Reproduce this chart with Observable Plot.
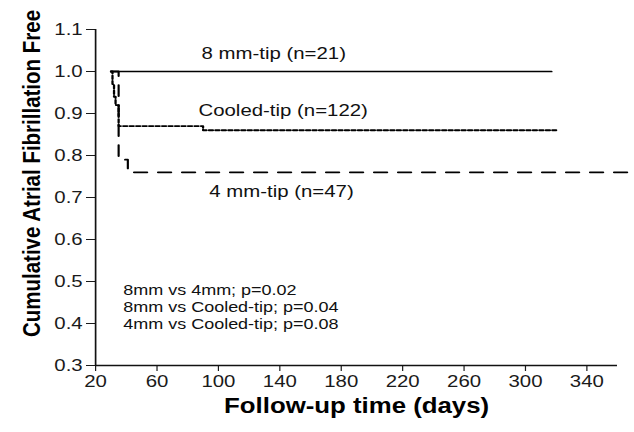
<!DOCTYPE html>
<html>
<head>
<meta charset="utf-8">
<script src="https://cdn.jsdelivr.net/npm/d3@7"></script>
<script src="https://cdn.jsdelivr.net/npm/@observablehq/plot@0.6"></script>
<style>
  html, body { margin: 0; padding: 0; background: #fff; overflow: hidden; }
  #chart { width: 634px; height: 432px; position: relative; }
  #chart svg { transform-origin: 0 0; }
</style>
</head>
<body>
<div id="chart"></div>
<script>
// ---- data ----
const days8 = [30, 317];
const surv8 = [1.0, 1.0];

const daysCooled = [30, 31, 32, 33, 35, 90, 320];
const survCooled = [1.0, 0.97, 0.94, 0.92, 0.87, 0.86, 0.86];

const days4 = [30, 35, 41, 370];
const surv4 = [1.0, 0.79, 0.76, 0.76];

const xTicks = [20, 60, 100, 140, 180, 220, 260, 300, 340];
const yTicks = [0.3, 0.4, 0.5, 0.6, 0.7, 0.8, 0.9, 1.0, 1.1];

const seriesLabels = ["8 mm-tip (n=21)", "Cooled-tip (n=122)", "4 mm-tip (n=47)"];
const seriesLabelDay = [89, 87, 94];
const seriesLabelValue = [1.043, 0.906, 0.714];

const pLines = ["8mm vs 4mm; p=0.02", "8mm vs Cooled-tip; p=0.04", "4mm vs Cooled-tip; p=0.08"];
const pDay = [38, 38, 38];
const pValue = [0.4795, 0.439, 0.3985];

const xTitle = "Follow-up time (days)";
const yTitle = "Cumulative Atrial Fibrillation Free";

// ---- build tables ----
const toRows = (xs, ys) => xs.map((d, i) => ({day: d, surv: ys[i]}));
const rows8 = toRows(days8, surv8);
const rowsCooled = toRows(daysCooled, survCooled);
const rows4 = toRows(days4, surv4);
const labelRows = seriesLabels.map((t, i) => ({t, day: seriesLabelDay[i], surv: seriesLabelValue[i]}));
const pRows = pLines.map((t, i) => ({t, day: pDay[i], surv: pValue[i]}));

const font = "'Liberation Sans', Arial, Helvetica, sans-serif";
// the reference's lettering is horizontally wide; the chart is drawn narrower and stretched
const S = 1.2;

const chart = Plot.plot({
  width: 634 / S,
  height: 432,
  marginLeft: 95 / S,
  marginRight: 17 / S,
  marginTop: 29,
  marginBottom: 67,
  style: {fontFamily: font, fontSize: "17px", color: "#1a1a1a", background: "#fff", overflow: "visible"},
  x: {domain: [20, 360], ticks: xTicks, tickSize: 6, tickPadding: 3, label: null},
  y: {domain: [0.3, 1.1], ticks: yTicks, tickFormat: d3.format(".1f"), tickSize: 7.5, tickPadding: 3.3, label: null},
  marks: [
    Plot.ruleX([20], {stroke: "#111", strokeWidth: 1.4}),
    Plot.ruleY([0.3], {stroke: "#111", strokeWidth: 1.6}),
    Plot.line(rows8, {x: "day", y: "surv", curve: "step-after", stroke: "#000", strokeWidth: 1.7}),
    Plot.line(rowsCooled, {x: "day", y: "surv", curve: "step-after", stroke: "#000", strokeWidth: 1.9, strokeDasharray: "3.4,2"}),
    Plot.line(rows4, {x: "day", y: "surv", curve: "step-after", stroke: "#000", strokeWidth: 1.8, strokeDasharray: "11,9"}),
    Plot.text(labelRows, {x: "day", y: "surv", text: "t", textAnchor: "start", fontSize: 17, fill: "#111"}),
    Plot.text(pRows, {x: "day", y: "surv", text: "t", textAnchor: "start", fontSize: 15, fill: "#111"}),
    Plot.text([xTitle], {frameAnchor: "bottom", dy: 48, fontSize: 21.5, fontWeight: "bold", fill: "#000"}),
    Plot.text([yTitle], {frameAnchor: "left", textAnchor: "middle", rotate: -90, dx: -52.5, dy: -24, fontSize: 20.5, fontWeight: "bold", fill: "#000"})
  ]
});

chart.style.transform = `scaleX(${S})`;
document.getElementById("chart").appendChild(chart);
</script>
</body>
</html>
